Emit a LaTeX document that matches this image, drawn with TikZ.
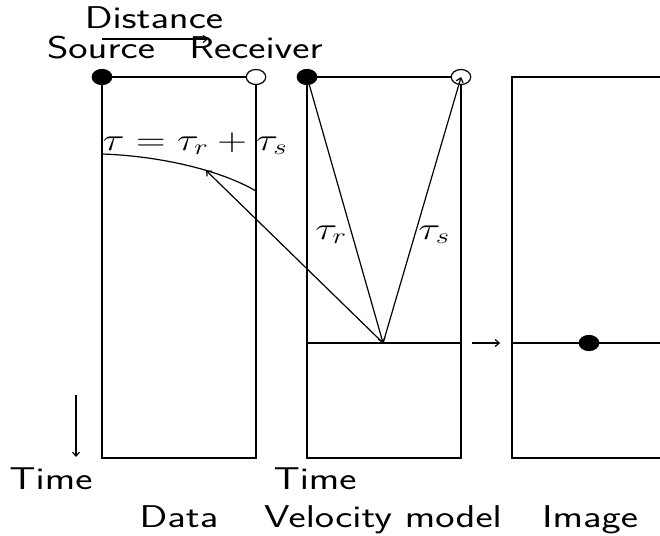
\RequirePackage{fix-cm}
\documentclass[tikz,border=0pt]{standalone}
\usepackage{tikz}
\usetikzlibrary{arrows,arrows.meta,positioning}

\begin{document}
\begin{tikzpicture}[x=0.76923pt, y=-1pt, xscale=1.3, line width=1.2pt,
    >={Straight Barb[length=4pt,width=7pt]},
    every node/.style={transform shape},
    full/.style={circle, draw, fill=black, minimum size=15pt, inner sep=0pt},
    hollow/.style={circle, draw, fill=white, minimum size=15pt, inner sep=0pt},
    lbl/.style={font=\fontsize{31.5}{36}\selectfont\sffamily, anchor=base, inner sep=0pt}
]
\useasboundingbox (0,0) rectangle (660,535);

% Panels
\draw (102,77) rectangle (256,458);
\draw (307,77) rectangle (461,458);
\draw (512,77) rectangle (700,458);
\draw (307,343) -- (461,343);
\draw (512,343) -- (700,343);

% Sources and receivers
\node[full] (src1) at (102,77) {};
\node[hollow] (rec1) at (256,77) {};
\node[full] (src2) at (307,77) {};
\node[hollow] (rec2) at (461,77) {};
\node[full] (pt) at (589,343) {};

% Labels
\node[lbl] (dist) at (154,29) {Distance};
\node[lbl] (srclbl) at (101,59) {Source};
\node[lbl] (reclbl) at (256,59) {Receiver};
\node[lbl] (eq) at (195,150) {$\tau = \tau_r + \tau_s$};
\node[lbl] (taur) at (331,239) {$\tau_r$};
\node[lbl] (taus) at (434,239) {$\tau_s$};
\node[lbl] (time1) at (51,489) {Time};
\node[lbl] (time2) at (315,489) {Time};
\node[lbl] (data) at (179,527) {Data};
\node[lbl] (vel) at (383,527) {Velocity model};
\node[lbl] (img) at (590,527) {Image};

% Axes
\coordinate (d0) at (102,39);
\coordinate (d1) at (208,39);
\draw[->] (d0) -- (d1);
\coordinate (t0) at (76,395);
\coordinate (t1) at (76,457);
\draw[->] (t0) -- (t1);

% Traveltime curve
\draw (102,154) .. controls (160,156) and (220,170) .. (256,191) coordinate[pos=0.62] (hit);

% Rays
\coordinate (refl) at (383,343);
\draw[->] (src2) -- (refl);
\draw[->] (refl) -- (rec2.center);
\draw[->] (refl) -- (hit);

% Migration
\coordinate (m0) at (472,343);
\coordinate (m1) at (500,343);
\draw[->] (m0) -- (m1);

\end{tikzpicture}
\end{document}
